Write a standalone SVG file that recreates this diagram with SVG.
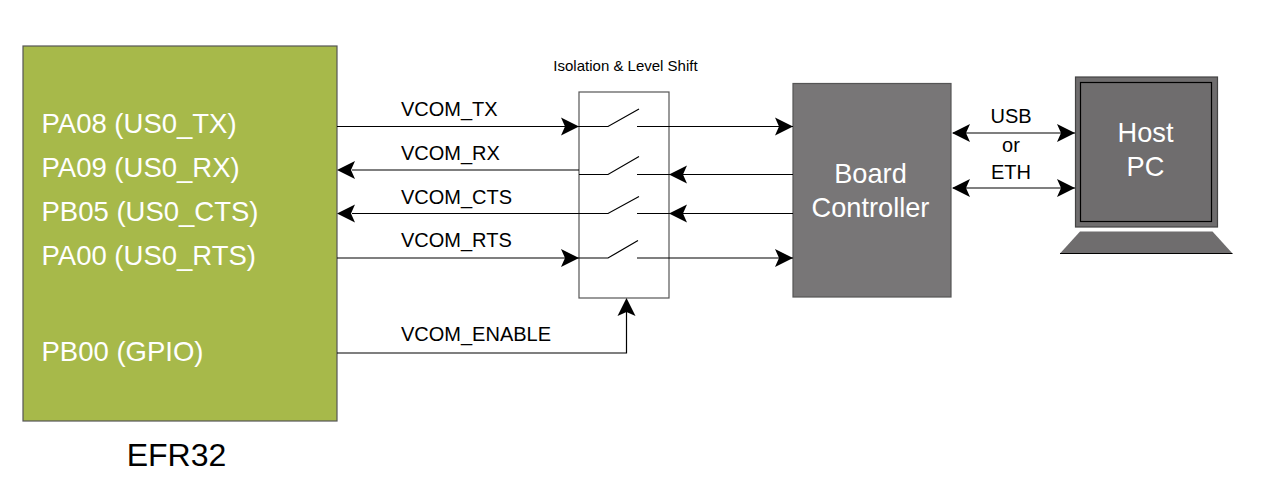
<svg xmlns="http://www.w3.org/2000/svg" width="1286" height="498" viewBox="0 0 1286 498">
<style>
text{font-family:"Liberation Sans",Arial,sans-serif}
.pin{font-size:27.500px;fill:#fff}
.sig{font-size:20px;fill:#000}
.big{font-size:27.200px;fill:#fff;text-anchor:middle}
.mid{font-size:20px;fill:#000;text-anchor:middle}
.w{fill:none;stroke:#000;stroke-width:1.200}
.box{stroke:#555;stroke-width:1.200}
</style>
<defs>
<path id="ah" d="M0 0L-18 -9L-14 0L-18 9Z" fill="#000"/>
</defs>
<rect width="1286" height="498" fill="#fff"/>
<g id="efr32">
<rect class="box" x="23" y="46" width="314" height="375" fill="#a7b94a"/>
<text class="pin" x="41.500" y="133">PA08 (US0_TX)</text>
<text class="pin" x="41.500" y="177">PA09 (US0_RX)</text>
<text class="pin" x="41.500" y="221">PB05 (US0_CTS)</text>
<text class="pin" x="41.500" y="265">PA00 (US0_RTS)</text>
<text class="pin" x="41.500" y="361">PB00 (GPIO)</text>
<text x="176.500" y="466" font-size="32" text-anchor="middle" fill="#000">EFR32</text>
</g>
<g id="isolation">
<rect x="579" y="92" width="90" height="206" fill="#fff" stroke="#555" stroke-width="1.200"/>
<text x="625.500" y="71" font-size="15" text-anchor="middle" fill="#000">Isolation &amp; Level Shift</text>
</g>
<g id="board-controller">
<rect class="box" x="793" y="83.500" width="158" height="213.500" fill="#787677"/>
<text class="big" x="870.500" y="183">Board</text>
<text class="big" x="870.500" y="217">Controller</text>
</g>
<g id="host-pc">
<rect x="1075.500" y="77" width="142" height="150" fill="#6f6d6e" stroke="#444" stroke-width="1.200"/>
<rect x="1080.500" y="82.500" width="131" height="139" fill="#6f6d6e" stroke="#000" stroke-width="1.200"/>
<path d="M1080 231.500H1212.500L1232.500 253.500H1060Z" fill="#6f6d6e"/>
<path d="M1060 253.500H1232.500" stroke="#000" stroke-width="1.200" fill="none"/>
<text class="big" x="1145.500" y="142">Host</text>
<text class="big" x="1145.500" y="176">PC</text>
</g>
<g id="connectors">
<path class="w" d="M337 126.500H608L639 109M637 126.500H793"/>
<path class="w" d="M352 170H579"/>
<path class="w" d="M579 174.500H608L639 156.500M637 174.500H793"/>
<path class="w" d="M352 213.500H608L639 196.500M637 213.500H793"/>
<path class="w" d="M337 258H608L638 240.500M637 258H793"/>
<path class="w" d="M337 353H626.500V310"/>
<path class="w" d="M953 133H1075"/>
<path class="w" d="M953 188H1075"/>
<use href="#ah" x="579" y="126.500"/>
<use href="#ah" x="579" y="258"/>
<use href="#ah" x="793" y="126.500"/>
<use href="#ah" x="793" y="258"/>
<use href="#ah" transform="translate(337 170) rotate(180)"/>
<use href="#ah" transform="translate(337 213.500) rotate(180)"/>
<use href="#ah" transform="translate(669 174.500) rotate(180)"/>
<use href="#ah" transform="translate(669 213.500) rotate(180)"/>
<use href="#ah" transform="translate(626.500 298) rotate(-90)"/>
<use href="#ah" transform="translate(952 133) rotate(180)"/>
<use href="#ah" transform="translate(952 188) rotate(180)"/>
<use href="#ah" x="1075" y="133"/>
<use href="#ah" x="1075" y="188"/>
<text class="sig" x="401" y="116">VCOM_TX</text>
<text class="sig" x="401" y="160">VCOM_RX</text>
<text class="sig" x="401" y="204">VCOM_CTS</text>
<text class="sig" x="401" y="247">VCOM_RTS</text>
<text class="sig" x="401" y="340.500">VCOM_ENABLE</text>
<text class="mid" x="1011" y="123">USB</text>
<text class="mid" x="1011" y="152">or</text>
<text class="mid" x="1011" y="179">ETH</text>
</g>
</svg>
